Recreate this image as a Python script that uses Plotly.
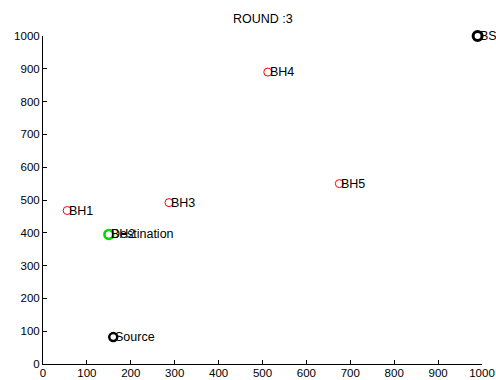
import plotly.graph_objects as go

bh_names = ["BH1", "BH2", "BH3", "BH4", "BH5"]
bh_x = [55, 150, 287, 512, 675]
bh_y = [468, 395, 492, 890, 550]

source = (160, 82)
destination = (150, 395)
bs = (990, 1000)

FONT = "Liberation Sans, Arial"

fig = go.Figure()
fig.add_trace(go.Scatter(x=bh_x, y=bh_y, mode="markers",
                         marker=dict(symbol="circle-open", size=8, color="red", line=dict(width=1))))
fig.add_trace(go.Scatter(x=[destination[0]], y=[destination[1]], mode="markers",
                         marker=dict(symbol="circle-open", size=9, color="#00dd00", line=dict(width=2.5))))
fig.add_trace(go.Scatter(x=[source[0]], y=[source[1]], mode="markers",
                         marker=dict(symbol="circle-open", size=8, color="black", line=dict(width=2.5))))
fig.add_trace(go.Scatter(x=[bs[0]], y=[bs[1]], mode="markers",
                         marker=dict(symbol="circle-open", size=9, color="black", line=dict(width=3)),
                         cliponaxis=False))

labels = list(zip(bh_x, bh_y, bh_names)) + [
    (source[0], source[1], "Source"),
    (destination[0], destination[1], "Destination"),
    (bs[0], bs[1], "BS"),
]
for x, y, t in labels:
    fig.add_annotation(x=x, y=y, text=t, showarrow=False, xanchor="left", yanchor="middle",
                       xshift=0, font=dict(family=FONT, size=12.5, color="black"))

axis_common = dict(range=[0, 1000], dtick=100, showgrid=False, zeroline=False,
                   showline=True, linecolor="black", linewidth=1, automargin=False,
                   ticks="inside", ticklen=4, tickcolor="black", mirror=False,
                   tickfont=dict(family=FONT, size=11.5, color="black"))
fig.update_xaxes(**axis_common, ticklabelstandoff=-2)
fig.update_yaxes(**axis_common)

fig.update_layout(
    width=496, height=380,
    margin=dict(l=43, r=14, t=36, b=16),
    plot_bgcolor="white", paper_bgcolor="white",
    showlegend=False,
    title=dict(text="ROUND :3", x=0.53, xanchor="center", y=0.95, yanchor="middle",
               font=dict(family=FONT, size=12.5, color="black")),
)

fig.write_html("out.html")
